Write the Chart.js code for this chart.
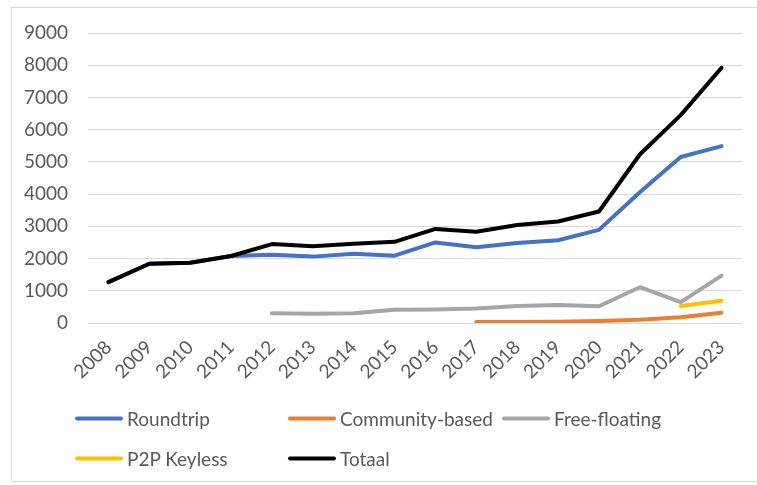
<!DOCTYPE html>
<html>
<head>
<meta charset="utf-8">
<script src="https://cdn.jsdelivr.net/npm/chart.js@4.4.1/dist/chart.umd.min.js"></script>
<style>
    body { margin: 0; background: #fff; }
    #wrap { position: relative; width: 757px; height: 485px; overflow: hidden; font-family: Lato, "Open Sans", sans-serif; }
    #frame { position: absolute; left: 11px; top: 7px; width: 800px; height: 475px; border: 1px solid #d9d9d9; box-sizing: border-box; }
    canvas { position: absolute; left: 0; top: 0; }
    .leg { position: absolute; display: flex; align-items: center; font-size: 19px; color: #595959; white-space: nowrap; transform: translateY(-50%); }
    .leg span.swatch { display: inline-block; width: 48px; height: 4px; border-radius: 2px; margin-right: 4px; }
</style>
</head>
<body>
<div id="wrap">
    <div id="frame"></div>
    <canvas id="lineChart" width="757" height="485"></canvas>
    <div id="legend"></div>
</div>
<script>
const years = ['2008', '2009', '2010', '2011', '2012', '2013', '2014', '2015', '2016', '2017', '2018', '2019', '2020', '2021', '2022', '2023'];
const roundtrip = [1270, 1840, 1870, 2080, 2120, 2060, 2150, 2090, 2500, 2350, 2480, 2570, 2890, 4060, 5150, 5490];
const communityBased = [null, null, null, null, null, null, null, null, null, 30, 30, 40, 60, 100, 180, 320];
const freeFloating = [null, null, null, null, 300, 290, 300, 410, 420, 450, 530, 560, 520, 1110, 650, 1470];
const p2pKeyless = [null, null, null, null, null, null, null, null, null, null, null, null, null, null, 530, 690];
const totaal = [1270, 1840, 1870, 2080, 2450, 2380, 2460, 2520, 2920, 2830, 3040, 3150, 3460, 5230, 6450, 7920];
const yTicks = [0, 1000, 2000, 3000, 4000, 5000, 6000, 7000, 8000, 9000];

const textColor = '#595959';
const gridColor = '#d9d9d9';

const makeSet = (label, data, color, order) => ({
    label: label,
    data: data,
    borderColor: color,
    backgroundColor: color,
    borderWidth: 4,
    pointRadius: 0,
    tension: 0,
    borderCapStyle: 'round',
    borderJoinStyle: 'round',
    spanGaps: false,
    order: order
});

const datasets = [
    makeSet('Roundtrip', roundtrip, '#4472C4', 5),
    makeSet('Community-based', communityBased, '#ED7D31', 4),
    makeSet('Free-floating', freeFloating, '#A5A5A5', 3),
    makeSet('P2P Keyless', p2pKeyless, '#FFC000', 2),
    makeSet('Totaal', totaal, '#000000', 1)
];

new Chart(document.getElementById('lineChart'), {
    type: 'line',
    data: { labels: years, datasets: datasets },
    options: {
        responsive: false,
        animation: false,
        devicePixelRatio: 1,
        layout: { padding: { left: 0, right: 15, top: 33, bottom: 0 } },
        plugins: {
            legend: { display: false },
            tooltip: { enabled: false }
        },
        scales: {
            x: {
                offset: true,
                grid: { display: false, drawTicks: false },
                border: { display: false },
                ticks: {
                    color: textColor,
                    font: { family: 'Lato', size: 19 },
                    minRotation: 45,
                    maxRotation: 45,
                    padding: 13,
                    autoSkip: false
                },
                afterFit: (scale) => { scale.height = 162; }
            },
            y: {
                min: 0,
                max: 9000,
                afterBuildTicks: (scale) => { scale.ticks = yTicks.map(v => ({ value: v })); },
                grid: { color: gridColor, lineWidth: 1, drawTicks: false },
                border: { display: false },
                ticks: {
                    color: textColor,
                    font: { family: 'Lato', size: 19 },
                    padding: 20,
                    callback: (value) => String(value)
                },
                afterFit: (scale) => { scale.width = 88; }
            }
        }
    }
});

// legend laid out in fixed columns like the original
const legendSpots = [[75, 418], [288, 418], [502, 418], [75, 458], [288, 458]];
const legendBox = document.getElementById('legend');
datasets.forEach((ds, i) => {
    const item = document.createElement('div');
    item.className = 'leg';
    item.style.left = legendSpots[i][0] + 'px';
    item.style.top = legendSpots[i][1] + 'px';
    item.innerHTML = '<span class="swatch" style="background:' + ds.borderColor + '"></span>' + ds.label;
    legendBox.appendChild(item);
});
</script>
</body>
</html>
